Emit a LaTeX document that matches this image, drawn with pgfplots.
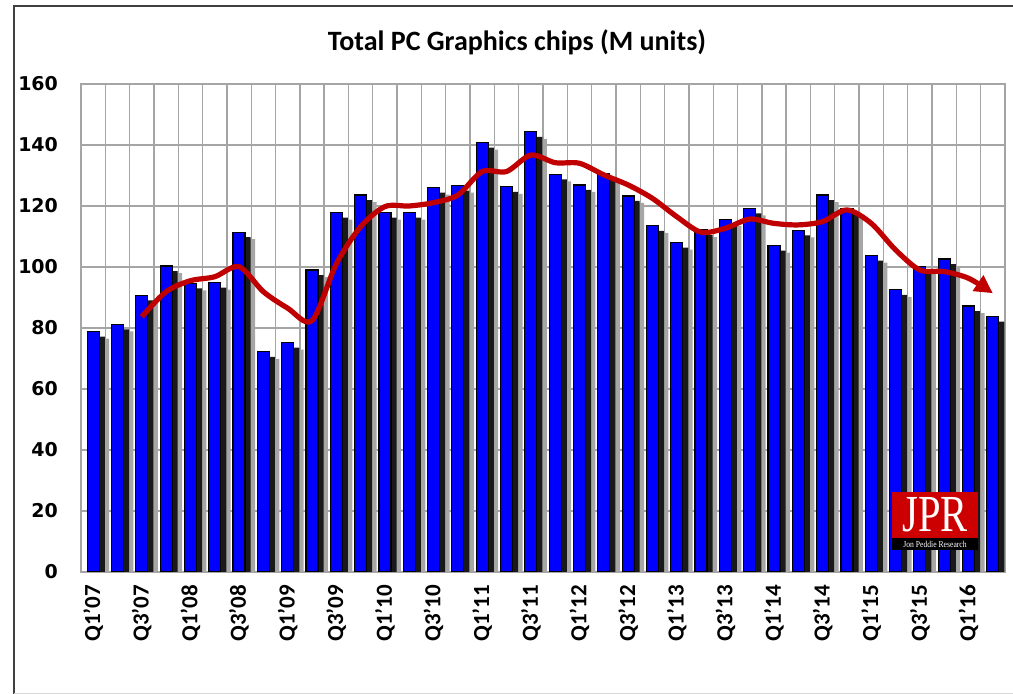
\documentclass[border=0pt]{standalone}
\usepackage{fontspec}
\setmainfont{Carlito}
\newfontfamily\dejavu{DejaVu Sans}
\newfontfamily\lserif{Liberation Serif}
\usepackage{pgfplots}
\usepackage{pgfplotstable}
\pgfplotsset{compat=1.18}
\usetikzlibrary{arrows.meta}
\definecolor{barblue}{RGB}{0,0,255}
\definecolor{trendred}{RGB}{192,0,0}
\definecolor{gridgray}{RGB}{165,165,165}
\definecolor{logored}{RGB}{204,0,0}

\pgfplotstableread{
x y
0 78.8
1 81.2
2 90.7
3 100.3
4 94.6
5 94.9
6 111.4
7 72.2
8 75.2
9 99
10 117.8
11 123.6
12 117.8
13 117.8
14 126
15 126.7
16 140.8
17 126.3
18 144.3
19 130.4
20 126.9
21 130.7
22 123.3
23 113.5
24 108
25 112.1
26 115.7
27 119.2
28 107
29 112
30 123.6
31 119.2
32 103.7
33 92.5
34 100.1
35 102.6
36 87.2
37 83.7
}\chips

\pgfplotstableread{
x y
2 83.7
3 91.9
4 95.5
5 96.8
6 100.1
7 91.9
8 86.5
9 82.4
10 101
11 113.2
12 119.8
13 120
14 121.1
15 123.6
16 131.3
17 131.3
18 136.7
19 134.2
20 134
21 130.2
22 126.9
23 122.5
24 116.5
25 111.4
26 112.7
27 115.7
28 114.3
29 113.8
30 114.9
31 118.7
32 114.3
33 105.6
34 99
35 98.5
36 96.3
37 91.4
}\trend

\begin{document}
\begin{tikzpicture}[x=1pt,y=1pt]
\path[use as bounding box] (0,0) rectangle (506.5,347);
\draw[line width=1.2pt, black!75] (7,0) -- (7,344) -- (506.5,344);
\draw[black!15, line width=0.5pt] (7,0.3) -- (506.5,0.3);
\node[font=\bfseries\fontsize{14}{16}\selectfont] at (258.5,326) {Total PC Graphics chips (M units)};
\begin{axis}[
  at={(40.5pt,61pt)}, anchor=south west,
  scale only axis, width=462pt, height=244pt,
  xmin=-0.5, xmax=37.5, ymin=0, ymax=160,
  ytick={0,20,...,160},
  xtick={0,2,...,36},
  xticklabels={{Q1'07},{Q3'07},{Q1'08},{Q3'08},{Q1'09},{Q3'09},{Q1'10},{Q3'10},{Q1'11},{Q3'11},{Q1'12},{Q3'12},{Q1'13},{Q3'13},{Q1'14},{Q3'14},{Q1'15},{Q3'15},{Q1'16}},
  minor xtick={-0.5,0.5,...,37.5},
  xminorgrids, ymajorgrids,
  grid style={gridgray, line width=0.7pt},
  minor grid style={gridgray, line width=0.7pt},
  axis line style={gridgray, line width=0.7pt},
  major tick length=0pt, minor tick length=0pt,
  tick style={draw=none},
  /pgf/number format/assume math mode=true,
  yticklabel style={font=\dejavu\bfseries\fontsize{9.5}{10}\selectfont, xshift=-8pt},
  xticklabel style={font=\bfseries\fontsize{11.5}{12}\selectfont, yshift=-3pt, rotate=90, anchor=east},
]
\addplot[ybar, bar width=6pt, bar shift=5pt, fill=black!35, draw=none, yshift=-3.5pt, forget plot] table {\chips};
\addplot[ybar, bar width=6pt, bar shift=2.8pt, fill=black!90, draw=none, yshift=-2.5pt, forget plot] table {\chips};
\addplot[ybar, bar width=6pt, bar shift=0pt, fill=barblue, draw=black, line width=0.6pt] table {\chips};
\addplot[trendred, line width=2.6pt, smooth, -{Triangle[length=9pt,width=9pt]}] table {\trend};
\end{axis}
\fill[logored] (446,78) rectangle (489,101);
\fill[black] (446,72) rectangle (489,78);
\node[white, inner sep=0pt] at (467.5,89.5) {\lserif\fontsize{26}{26}\selectfont\scalebox{0.78}[1]{JPR}};
\node[white, inner sep=0pt, font=\lserif\fontsize{4.5}{5}\selectfont] at (467.5,75) {\scalebox{0.85}[1]{Jon Peddie Research}};
\end{tikzpicture}
\end{document}
